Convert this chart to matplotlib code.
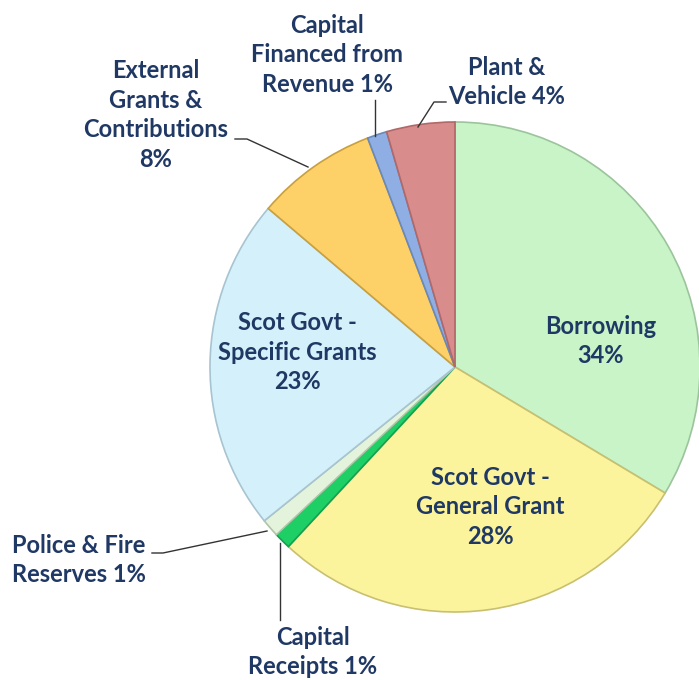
import matplotlib.pyplot as plt

# slice shares (clockwise from 12 o'clock)
sources = ['Borrowing', 'Scot Govt - General Grant', 'Capital Receipts',
           'Police & Fire Reserves', 'Scot Govt - Specific Grants',
           'External Grants & Contributions', 'Capital Financed from Revenue',
           'Plant & Vehicle']
shares = [33.6, 28.3, 1.1, 1.2, 22.0, 8.0, 1.3, 4.5]
pct_text = ['34%', '28%', '1%', '1%', '23%', '8%', '1%', '4%']
colours = ['#c8f4c8', '#fbf49c', '#1ecf66', '#e4f4dc', '#d3f0fb',
           '#fdd068', '#8eaee4', '#d98c8c']
edges = ['#9cc49c', '#c8c070', '#15a050', '#b0c4a8', '#a8c4d0',
         '#c8a040', '#6a88b8', '#b06868']

H = 680
fig = plt.figure(figsize=(6.99, 6.80), dpi=100)
ax = fig.add_axes([0, 0, 1, 1])

wedges, _ = ax.pie(shares, colors=colours, startangle=90, counterclock=False,
                   center=(455, H - 367), radius=245,
                   wedgeprops=dict(linewidth=1.2))
for w, ec in zip(wedges, edges):
    w.set_edgecolor(ec)

ax.set_xlim(0, 699)
ax.set_ylim(0, H)
ax.set_aspect('equal')
ax.axis('off')

navy = '#1f3864'
font = dict(color=navy, fontsize=17, fontweight='bold', family='Lato',
            linespacing=1.36)

# label text, placed in pixel positions of the reference
labels = [
    ('Borrowing\n' + pct_text[0], 601, 341, 'center'),
    ('Scot Govt -\nGeneral Grant\n' + pct_text[1], 490, 507, 'center'),
    ('Capital\nReceipts ' + pct_text[2], 313, 652, 'center'),
    ('Police & Fire\nReserves ' + pct_text[3], 12, 560, 'left'),
    ('Scot Govt -\nSpecific Grants\n' + pct_text[4], 297, 352, 'center'),
    ('External\nGrants &\nContributions\n' + pct_text[5], 156, 115, 'center'),
    ('Capital\nFinanced from\nRevenue ' + pct_text[6], 327, 55, 'center'),
    ('Plant &\nVehicle ' + pct_text[7], 507, 82, 'center'),
]
for txt, x, y, ha in labels:
    ax.text(x, H - y, txt, ha=ha, va='center', **font)

# leader lines
leaders = [
    [(235, 139), (247, 139), (308, 167)],
    [(375, 100), (375, 136)],
    [(446, 102), (434, 102), (418, 127)],
    [(152, 553), (163, 553), (267, 531)],
    [(280, 543), (280, 620)],
]
for pts in leaders:
    xs = [p[0] for p in pts]
    ys = [H - p[1] for p in pts]
    ax.plot(xs, ys, color='#333333', linewidth=1)

fig.savefig('out.png', dpi=100)
